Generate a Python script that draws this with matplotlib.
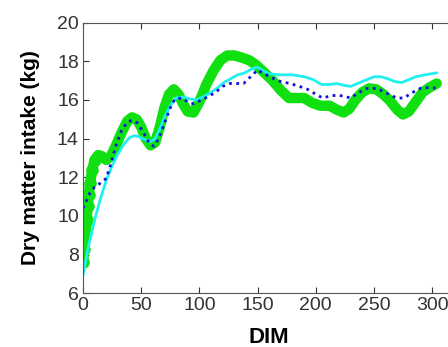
import matplotlib.pyplot as plt
import numpy as np

plt.rcParams['font.family'] = ['Liberation Sans', 'DejaVu Sans']

# green (observed, thick)
dim_obs = [0, 1, 2, 3, 4, 5, 6, 8, 10, 13, 16, 20, 24, 28, 33, 38, 42, 46, 50, 54, 58,
           62, 66, 70, 74, 78, 82, 86, 90, 95, 100, 106, 112, 118, 124, 130, 136, 143,
           149, 156, 163, 170, 177, 184, 190, 197, 204, 212, 218, 224, 229, 234, 240,
           246, 252, 258, 264, 270, 275, 280, 286, 292, 298, 304]
dmi_obs = [7.6, 8.3, 9.0, 9.8, 10.5, 11.1, 11.7, 12.4, 12.9, 13.15, 13.1, 12.9, 13.1,
           13.6, 14.3, 14.9, 15.1, 15.0, 14.6, 14.0, 13.65, 13.8, 14.6, 15.6, 16.3, 16.55,
           16.3, 15.8, 15.4, 15.35, 15.9, 16.8, 17.5, 18.05, 18.3, 18.3, 18.2, 18.05, 17.8,
           17.4, 17.0, 16.5, 16.1, 16.1, 16.1, 15.85, 15.7, 15.7, 15.5, 15.35, 15.55, 16.0,
           16.4, 16.6, 16.55, 16.3, 15.95, 15.5, 15.25, 15.4, 15.9, 16.4, 16.65, 16.85]

# blue dotted
dim_b = [0, 3, 6, 10, 15, 20, 24, 28, 33, 38, 42, 47, 52, 57, 61, 65, 70, 75, 79, 85,
         90, 95, 100, 107, 114, 120, 126, 132, 138, 144, 150, 156, 162, 170, 178, 186,
         193, 200, 206, 212, 218, 224, 230, 236, 244, 252, 258, 264, 270, 276, 282, 290,
         298, 304]
dmi_b = [10.4, 10.8, 11.2, 11.5, 11.7, 11.95, 12.7, 13.6, 14.4, 14.85, 14.95, 14.8, 14.3,
         13.75, 13.6, 14.0, 14.8, 15.6, 16.05, 16.1, 15.9, 15.8, 15.95, 16.15, 16.4, 16.7,
         16.85, 16.85, 16.85, 17.2, 17.55, 17.35, 17.15, 16.95, 16.85, 16.7, 16.55, 16.3,
         16.1, 16.2, 16.25, 16.2, 16.1, 16.35, 16.6, 16.6, 16.45, 16.25, 16.1, 16.1, 16.35,
         16.6, 16.65, 16.6]

# cyan solid
dim_c = [0, 5, 10, 15, 20, 25, 30, 35, 40, 44, 48, 53, 58, 62, 66, 70, 75, 80, 86, 92,
         97, 103, 109, 115, 121, 127, 133, 139, 145, 150, 155, 160, 170, 180, 190, 198,
         205, 212, 218, 225, 230, 236, 242, 250, 256, 262, 268, 274, 280, 286, 294, 304]
dmi_c = [6.95, 8.5, 9.8, 10.9, 11.85, 12.6, 13.2, 13.7, 14.05, 14.15, 14.1, 13.95, 13.85,
         14.0, 14.5, 15.1, 15.7, 16.1, 16.15, 16.05, 16.0, 16.15, 16.35, 16.6, 16.9, 17.1,
         17.3, 17.4, 17.6, 17.7, 17.5, 17.35, 17.3, 17.3, 17.2, 17.05, 16.8, 16.8, 16.85,
         16.75, 16.7, 16.85, 17.0, 17.2, 17.2, 17.1, 16.95, 16.9, 17.05, 17.2, 17.3, 17.4]

x_ticks = [0, 50, 100, 150, 200, 250, 300]
y_ticks = [6, 8, 10, 12, 14, 16, 18, 20]

fig = plt.figure(figsize=(4.48, 3.47), dpi=100)
ax = fig.add_axes([0.1853, 0.1548, 0.831, 0.780])

ax.plot(dim_obs, dmi_obs, color='#10e010', lw=7.5, solid_capstyle='round',
        solid_joinstyle='round', marker='o', ms=8, markevery=slice(0, 9))
ax.plot(dim_c, dmi_c, color='#20f0f0', lw=2)
ax.plot(dim_b, dmi_b, color='#1010e0', lw=2, linestyle=(0, (1, 1.6)))

ax.set_xlim(0, 320)
ax.set_ylim(6, 20)
ax.set_xticks(x_ticks)
ax.set_yticks(y_ticks)
ax.tick_params(direction='in', length=4, labelsize=14, colors='#333333',
               top=True, right=True, pad=3)
for s in ax.spines.values():
    s.set_color('#555555')

ax.set_xlabel('DIM', fontsize=16, fontweight='bold', labelpad=9)
ax.set_ylabel('Dry matter intake (kg)', fontsize=15, fontweight='bold', labelpad=12)

fig.savefig('out.png', dpi=100)
